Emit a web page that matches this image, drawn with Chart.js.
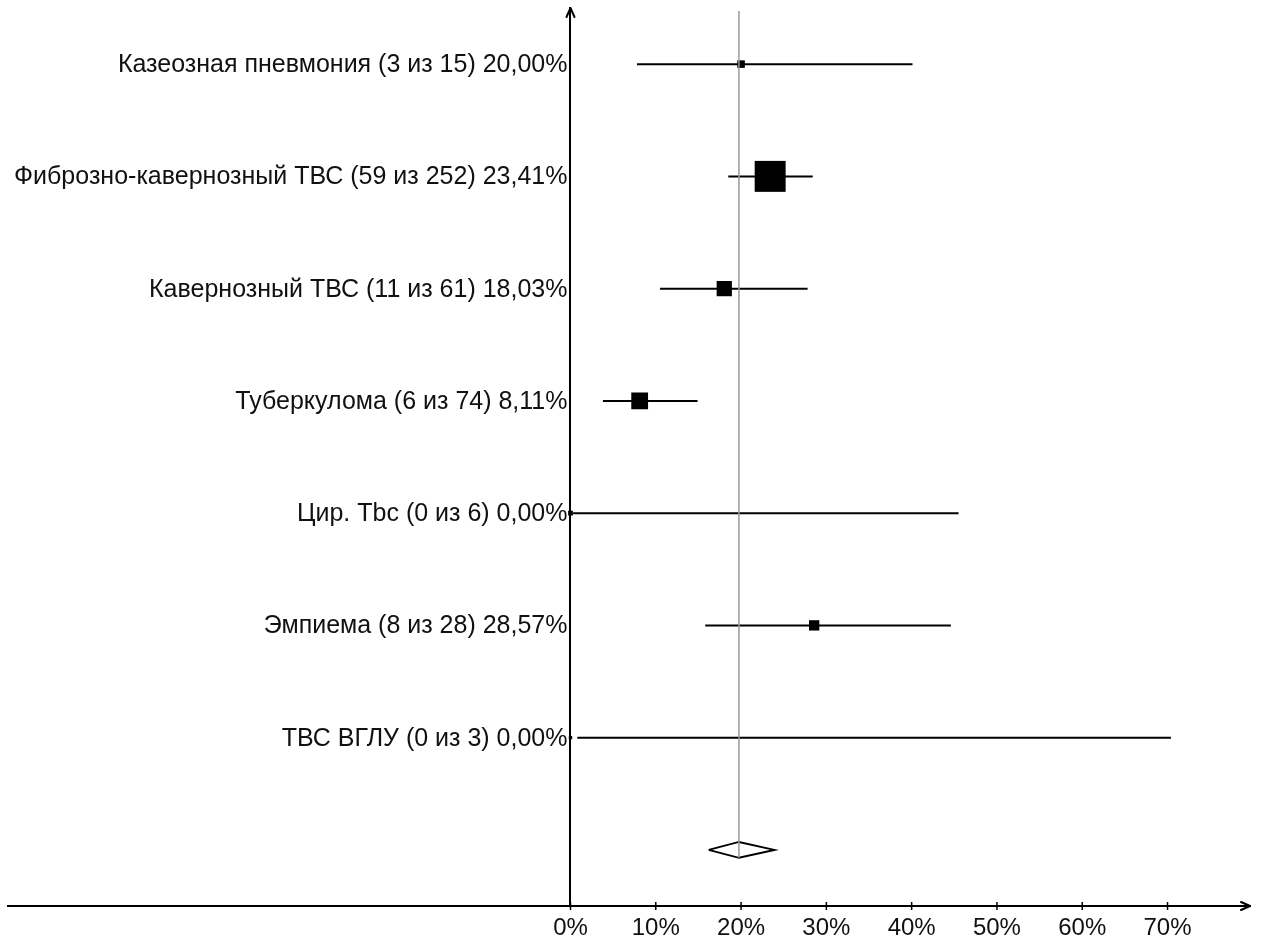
<!DOCTYPE html>
<html>
<head>
<meta charset="utf-8">
<script src="https://cdn.jsdelivr.net/npm/chart.js@4/dist/chart.umd.min.js"></script>
<style>
  html, body { margin: 0; padding: 0; background: #fff; }
  #wrap { width: 1262px; height: 941px; }
</style>
</head>
<body>
<div id="wrap"><canvas id="forest" width="1262" height="941"></canvas></div>
<script>
// Study groups: name, events, total, proportion (%), 95% CI bounds (%)
const groupNames = [
  'Казеозная пневмония',
  'Фиброзно-кавернозный ТВС',
  'Кавернозный ТВС',
  'Туберкулома',
  'Цир. Tbc',
  'Эмпиема',
  'ТВС ВГЛУ'
];
const events     = [3, 59, 11, 6, 0, 8, 0];
const totals     = [15, 252, 61, 74, 6, 28, 3];
const proportion = [20.00, 23.41, 18.03, 8.11, 0.00, 28.57, 0.00];
const ciLower    = [7.8, 18.5, 10.5, 3.8, 0.3, 15.8, 0.8];
const ciUpper    = [40.1, 28.4, 27.8, 14.9, 45.5, 44.6, 70.4];

// Pooled estimate and its interval
const pooledEstimate = 19.75;
const pooledLower = 16.2;
const pooledUpper = 23.9;

const xTicks = [0, 10, 20, 30, 40, 50, 60, 70];

const fmt = v => v.toFixed(2).replace('.', ',') + '%';
const rowLabels = groupNames.map((n, i) => `${n} (${events[i]} из ${totals[i]}) ${fmt(proportion[i])}`);

const pooledRow = groupNames.length;       // row index of the diamond
const BLACK = '#000';
const TEXT = '#111';
const FONT = "'Liberation Sans', Arial, sans-serif";

const datasets = [];

// reference line at the pooled estimate
datasets.push({
  type: 'line',
  data: [{ x: pooledEstimate, y: -0.473 }, { x: pooledEstimate, y: pooledRow + 0.07 }],
  borderColor: '#9a9a9a', borderWidth: 1.5, pointRadius: 0, fill: false
});

// confidence interval whiskers
rowLabels.forEach((_, i) => {
  datasets.push({
    type: 'line',
    data: [{ x: ciLower[i], y: i }, { x: ciUpper[i], y: i }],
    borderColor: BLACK, borderWidth: 2, pointRadius: 0, fill: false
  });
});

// point estimates, square side grows with the square root of the sample size
datasets.push({
  type: 'scatter',
  data: proportion.map((p, i) => ({ x: p, y: i })),
  pointStyle: 'rect',
  pointRadius: totals.map(n => 1.95 * Math.sqrt(n) / Math.SQRT2),
  backgroundColor: BLACK, borderColor: BLACK, borderWidth: 0
});

// pooled diamond
const dh = 0.071;
datasets.push({
  type: 'line',
  data: [
    { x: pooledLower, y: pooledRow },
    { x: pooledEstimate, y: pooledRow - dh },
    { x: pooledUpper, y: pooledRow },
    { x: pooledEstimate, y: pooledRow + dh },
    { x: pooledLower, y: pooledRow }
  ],
  borderColor: BLACK, borderWidth: 2, pointRadius: 0, fill: false, tension: 0
});

// axis arrows, crossing tick marks, row labels and percent labels
const axisDecor = {
  id: 'axisDecor',
  afterDraw(chart) {
    const { ctx, chartArea, scales: { x, y } } = chart;
    const x0 = x.getPixelForValue(0);
    const yAxis = y.getPixelForValue(y.max);
    ctx.save();
    ctx.strokeStyle = BLACK;
    ctx.lineWidth = 2;
    ctx.lineCap = 'round';
    ctx.lineJoin = 'round';
    // top arrow
    ctx.beginPath();
    ctx.moveTo(x0 - 4, chartArea.top + 9);
    ctx.lineTo(x0, chartArea.top);
    ctx.lineTo(x0 + 4, chartArea.top + 9);
    ctx.stroke();
    // right arrow
    ctx.beginPath();
    ctx.moveTo(chartArea.right - 9, yAxis - 4);
    ctx.lineTo(chartArea.right, yAxis);
    ctx.lineTo(chartArea.right - 9, yAxis + 4);
    ctx.stroke();
    // tick marks
    ctx.lineWidth = 1.5;
    ctx.lineCap = 'butt';
    xTicks.forEach(t => {
      const px = x.getPixelForValue(t);
      ctx.beginPath();
      ctx.moveTo(px, yAxis - 4);
      ctx.lineTo(px, yAxis + 4);
      ctx.stroke();
    });
    // percent labels under the axis
    ctx.fillStyle = TEXT;
    ctx.font = `24px ${FONT}`;
    ctx.textAlign = 'center';
    ctx.textBaseline = 'middle';
    xTicks.forEach(t => {
      ctx.fillText(t + '%', x.getPixelForValue(t), yAxis + 22);
    });
    // group labels left of the vertical axis
    ctx.font = `25px ${FONT}`;
    ctx.textAlign = 'right';
    rowLabels.forEach((lab, i) => {
      ctx.fillText(lab, x0 - 3, y.getPixelForValue(i) + 1);
    });
    ctx.restore();
  }
};

new Chart(document.getElementById('forest'), {
  type: 'scatter',
  data: { datasets },
  plugins: [axisDecor],
  options: {
    responsive: false,
    animation: false,
    devicePixelRatio: 1,
    layout: { autoPadding: false, padding: { left: 8, right: 12, top: 8, bottom: 35 } },
    plugins: { legend: { display: false }, tooltip: { enabled: false } },
    elements: { line: { tension: 0 } },
    scales: {
      x: {
        type: 'linear',
        min: -65.95,
        max: 79.67,
        position: { y: 7.5 },
        afterBuildTicks: s => { s.ticks = xTicks.map(v => ({ value: v })); },
        grid: { display: true, drawOnChartArea: false, drawTicks: false },
        border: { display: true, color: BLACK, width: 2 },
        ticks: { display: false }
      },
      y: {
        type: 'linear',
        min: -0.5,
        max: 7.5,
        reverse: true,
        position: { x: 0 },
        afterBuildTicks: s => { s.ticks = rowLabels.map((_, i) => ({ value: i })); },
        grid: { display: true, drawOnChartArea: false, drawTicks: false },
        border: { display: true, color: BLACK, width: 2 },
        ticks: { display: false }
      }
    }
  }
});
</script>
</body>
</html>
